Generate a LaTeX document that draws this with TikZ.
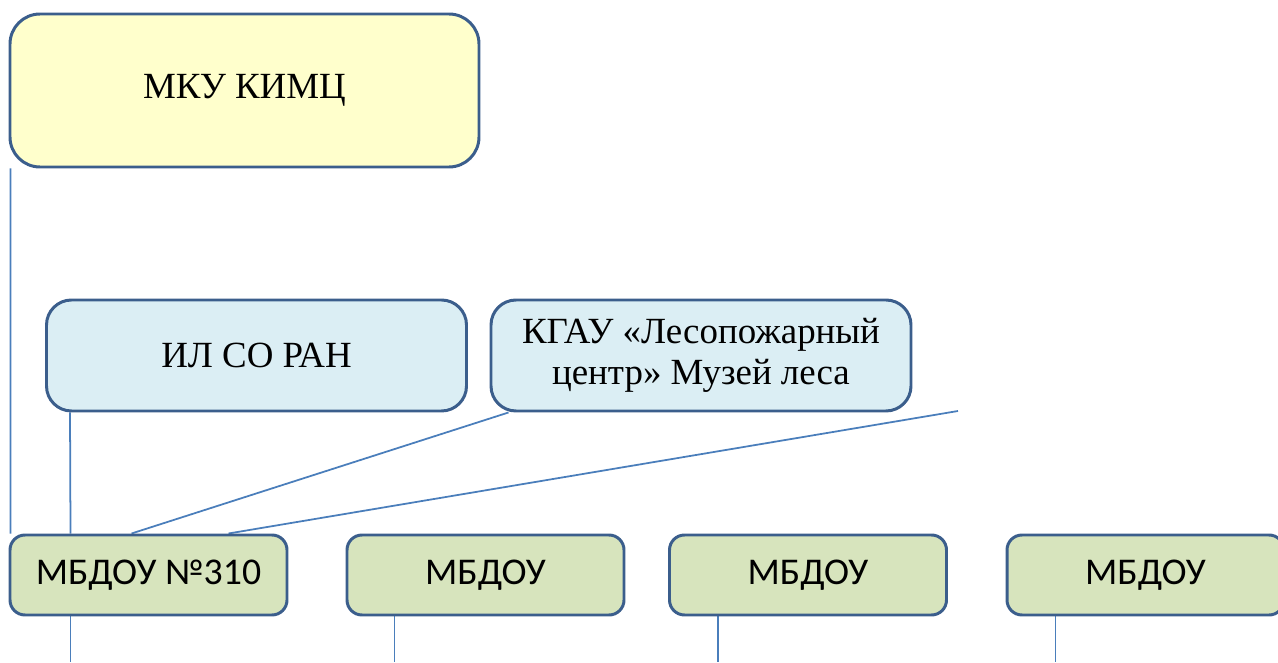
\documentclass[tikz,border=0pt]{standalone}
\usepackage{fontspec}
\setmainfont{Liberation Serif}
\setsansfont{Carlito}
\usetikzlibrary{backgrounds}

\definecolor{edgeblue}{HTML}{3B5E8C}
\definecolor{lineblue}{HTML}{4A7EBB}
\definecolor{kimcfill}{HTML}{FFFFCC}
\definecolor{partnerfill}{HTML}{DBEEF4}
\definecolor{schoolfill}{HTML}{D7E4BD}

\begin{document}
\begin{tikzpicture}[
    box/.style={draw=edgeblue, line width=1.7pt, align=center, inner sep=0pt,
      font=\fontsize{21}{23}\selectfont},
    topbox/.style={box, fill=kimcfill, rounded corners=0.6cm,
      minimum width=9.38cm, minimum height=3.06cm},
    partnerbox/.style={box, fill=partnerfill, rounded corners=0.5cm,
      minimum width=8.4cm, minimum height=2.22cm},
    schoolbox/.style={box, fill=schoolfill, rounded corners=0.3cm,
      minimum width=5.54cm, minimum height=1.6cm,
      font=\sffamily\fontsize{21.5}{24}\selectfont},
    link/.style={draw=lineblue, line width=1pt}]
    \useasboundingbox (0,0) rectangle (25.56,13.24);
    % Centre
    \node[topbox] (kimc) at (4.89,11.43) {МКУ КИМЦ};
    % Partners
    \node[partnerbox] (ilso) at (5.13,6.13) {ИЛ СО РАН};
    \node[partnerbox] (kgau) at (14.02,6.13) {КГАУ «Лесопожарный\\центр» Музей леса};
    % Kindergartens
    \node[schoolbox] (dou1) at (2.97,1.74) {МБДОУ №310};
    \node[schoolbox] (dou2) at (9.71,1.74) {МБДОУ};
    \node[schoolbox] (dou3) at (16.16,1.74) {МБДОУ};
    \node[schoolbox] (dou4) at (22.91,1.74) {МБДОУ};
    \coordinate (free) at (19.16,5.02);
    \coordinate (floor) at (0,0);
    % Links
    \begin{scope}[on background layer]
      \draw[link] ([xshift=0.04cm]kimc.south west) -- ([xshift=0.04cm]dou1.north west);
      \draw[link] ([xshift=0.5cm]ilso.south west) -- ([xshift=1.24cm]dou1.north west);
      \draw[link] ([xshift=0.38cm]kgau.south west) -- ([xshift=2.46cm]dou1.north west);
      \draw[link] (free) -- ([xshift=4.4cm]dou1.north west);
      \draw[link] ([xshift=1.24cm]dou1.south west) -- ([xshift=1.24cm]dou1.south west |- floor);
      \draw[link] ([xshift=0.98cm]dou2.south west) -- ([xshift=0.98cm]dou2.south west |- floor);
      \draw[link] ([xshift=1cm]dou3.south west) -- ([xshift=1cm]dou3.south west |- floor);
      \draw[link] ([xshift=1cm]dou4.south west) -- ([xshift=1cm]dou4.south west |- floor);
    \end{scope}
\end{tikzpicture}
\end{document}
